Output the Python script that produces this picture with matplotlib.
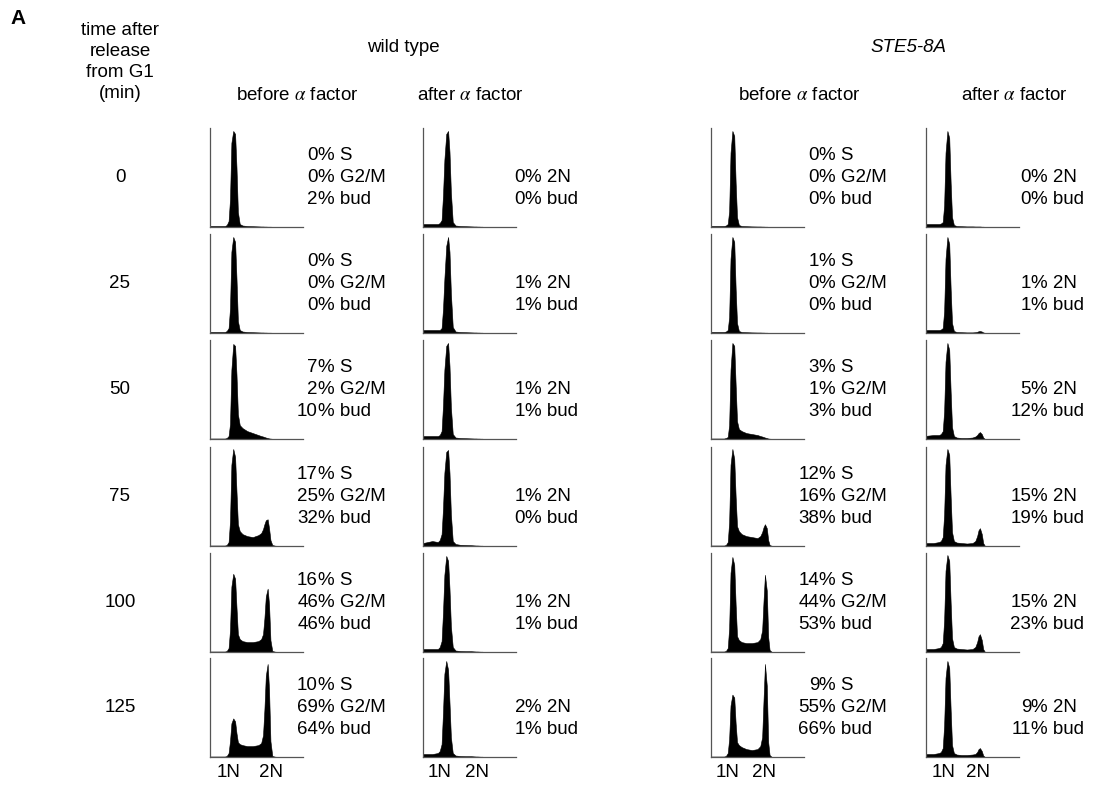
"""
Flow cytometry panels: wild type vs STE5-8A, before / after alpha factor
"""
import numpy as np
import matplotlib
matplotlib.use('Agg')
import matplotlib.pyplot as plt

plt.rcParams['font.family'] = ['Liberation Sans', 'DejaVu Sans']
plt.rcParams['mathtext.fontset'] = 'stix'

times = ['0', '25', '50', '75', '100', '125']
strains = ['wild type', 'STE5-8A']
col_titles = [r'before $\alpha$ factor', r'after $\alpha$ factor',
              r'before $\alpha$ factor', r'after $\alpha$ factor']
ploidy = ['1N', '2N']

# DNA content grid (channel, 0-100 across a panel), shared by all histograms
dna = [0, 10, 16, 18, 20, 21.5, 23, 25, 27, 28.5, 30, 32, 35, 40, 46, 52, 55, 57,
       58.5, 60, 62, 63.5, 65, 67, 70, 76, 100]

# cell counts (% of panel height), one row per time point
wt_before = [
    [1, 1, 1, 2, 6, 28, 85, 97, 94, 60, 15, 3, 1.5, 1, 0.8, 0.6, 0.5, 0.5, 0.4, 0.4, 0.3, 0.3, 0.3, 0.2, 0.2, 0, 0],
    [1, 1, 1, 2, 5, 25, 82, 97, 92, 55, 12, 3, 1.5, 1, 0.8, 0.6, 0.5, 0.5, 0.4, 0.4, 0.3, 0.3, 0.3, 0.2, 0.2, 0, 0],
    [0.5, 0.5, 0.5, 1, 3, 15, 70, 96, 94, 65, 25, 14, 11, 8, 6, 4, 3, 2.5, 2, 1.5, 1, 0.6, 0.4, 0.2, 0, 0, 0],
    [0.5, 0.5, 0.5, 1, 4, 25, 82, 98, 90, 55, 22, 15, 12, 10, 9, 11, 13, 17, 22, 26, 27, 18, 6, 1, 0.3, 0, 0],
    [0.5, 0.5, 0.5, 1, 4, 22, 66, 79, 74, 45, 18, 13, 11, 10, 10, 11, 13, 18, 34, 56, 64, 48, 12, 1, 0.3, 0, 0],
    [0.5, 0.5, 0.5, 1, 4, 16, 34, 39, 36, 24, 15, 13, 12, 11, 11, 12, 14, 22, 48, 82, 94, 68, 16, 1, 0.3, 0, 0],
]
wt_after = [
    [3, 3, 3, 4, 7, 32, 68, 94, 97, 76, 35, 5, 1.5, 1, 0.8, 0.6, 0.5, 0.5, 0.4, 0.4, 0.3, 0.3, 0.2, 0.2, 0, 0, 0],
    [3, 3, 3, 3, 5, 24, 55, 88, 97, 82, 40, 6, 1.5, 1, 0.8, 0.6, 0.5, 0.5, 0.4, 0.4, 0.3, 0.3, 0.2, 0.2, 0, 0, 0],
    [3, 3, 3, 4, 8, 34, 70, 94, 97, 74, 32, 5, 1.5, 1, 0.8, 0.6, 0.5, 0.5, 0.4, 0.4, 0.3, 0.3, 0.2, 0.2, 0, 0, 0],
    [3, 5, 4, 6, 12, 38, 74, 95, 97, 74, 32, 5, 2, 1.2, 1, 0.8, 0.6, 0.5, 0.5, 0.4, 0.3, 0.3, 0.2, 0.2, 0, 0, 0],
    [3, 3, 3, 5, 11, 40, 78, 97, 92, 64, 26, 5, 1.5, 1, 0.8, 0.8, 0.6, 0.5, 0.5, 0.4, 0.3, 0.3, 0.2, 0.2, 0, 0, 0],
    [3, 3, 4, 6, 13, 45, 84, 97, 88, 55, 20, 4, 1.5, 1, 0.8, 0.8, 0.6, 0.5, 0.5, 0.4, 0.3, 0.3, 0.2, 0.2, 0, 0, 0],
]
ste_before = [
    [1, 1, 1, 1.5, 3, 16, 75, 97, 92, 45, 10, 2, 1, 0.8, 0.6, 0.5, 0.5, 0.4, 0.4, 0.3, 0.3, 0.2, 0.2, 0.2, 0, 0, 0],
    [1, 1, 1, 1.5, 3, 16, 75, 97, 92, 45, 10, 2, 1, 0.8, 0.6, 0.5, 0.5, 0.4, 0.4, 0.3, 0.3, 0.2, 0.2, 0.2, 0, 0, 0],
    [0.5, 0.5, 0.5, 1, 2, 14, 70, 97, 94, 55, 18, 10, 8, 6, 5, 4, 3, 2.5, 2, 1.5, 1, 0.5, 0.3, 0.2, 0, 0, 0],
    [0.5, 0.5, 0.5, 1, 4, 24, 82, 98, 88, 50, 20, 15, 12, 10, 9, 8, 10, 14, 19, 22, 18, 6, 1, 0.3, 0, 0, 0],
    [0.5, 0.5, 0.5, 1, 4, 24, 80, 96, 88, 48, 16, 12, 10, 9, 9, 10, 13, 22, 52, 78, 62, 15, 2, 0.3, 0, 0, 0],
    [0.5, 0.5, 0.5, 1, 4, 18, 52, 63, 60, 34, 15, 12, 10, 8, 7, 8, 11, 20, 58, 94, 72, 15, 2, 0.3, 0, 0, 0],
]
ste_after = [
    [3, 3, 3, 3.5, 5, 22, 75, 97, 90, 45, 10, 2, 1, 0.8, 0.6, 0.6, 0.5, 0.5, 0.5, 0.5, 0.3, 0.3, 0.2, 0, 0, 0, 0],
    [3, 3, 3, 3.5, 5, 22, 75, 97, 90, 45, 10, 2, 1, 0.8, 0.6, 0.6, 0.8, 1.2, 1.8, 2, 1.5, 0.6, 0.2, 0, 0, 0, 0],
    [3, 4, 4, 5, 8, 28, 78, 97, 90, 48, 12, 3, 1.5, 1, 1, 1.5, 2.5, 4, 6, 7, 5, 1.5, 0.3, 0, 0, 0, 0],
    [3, 3, 4, 5, 9, 32, 82, 98, 92, 50, 14, 5, 3.5, 3, 2.5, 3, 5, 10, 16, 18, 12, 3, 0.5, 0, 0, 0, 0],
    [3, 3, 4, 5, 9, 32, 82, 98, 92, 50, 14, 5, 3.5, 3, 2.5, 3, 5, 10, 16, 18, 12, 3, 0.5, 0, 0, 0, 0],
    [3, 3, 4, 5, 9, 32, 80, 97, 90, 48, 12, 4, 2.5, 2, 2, 2.5, 3, 5, 8, 9, 6, 1.5, 0.3, 0, 0, 0, 0],
]

# scored percentages
wt_S = [0, 0, 7, 17, 16, 10]
wt_G2M = [0, 0, 2, 25, 46, 69]
wt_bud = [2, 0, 10, 32, 46, 64]
wt_after_2N = [0, 1, 1, 1, 1, 2]
wt_after_bud = [0, 1, 1, 0, 1, 1]
ste_S = [0, 1, 3, 12, 14, 9]
ste_G2M = [0, 0, 1, 16, 44, 55]
ste_bud = [0, 0, 3, 38, 53, 66]
ste_after_2N = [0, 1, 5, 15, 15, 9]
ste_after_bud = [0, 1, 12, 19, 23, 11]

hists = [wt_before, wt_after, ste_before, ste_after]
notes = [
    [(wt_S, '% S'), (wt_G2M, '% G2/M'), (wt_bud, '% bud')],
    [(wt_after_2N, '% 2N'), (wt_after_bud, '% bud')],
    [(ste_S, '% S'), (ste_G2M, '% G2/M'), (ste_bud, '% bud')],
    [(ste_after_2N, '% 2N'), (ste_after_bud, '% bud')],
]

# ---- layout in pixels ----
W, H = 1093, 788
col_left = [210, 423, 711, 926]
panel_w = 93
row_top = [128, 234, 340, 447, 553, 658]
panel_h = 99
x_shift = [0, 0, 2, 2]
pct_x = [318, 525, 819, 1031]
tick_px = [(229, 271), (440, 477), (728, 764), (944, 978)]
FS = 13.5


def fx(px):
    return px / W


def fy(py):
    return 1 - py / H


fig = plt.figure(figsize=(W / 100, H / 100), dpi=100)

for c in range(4):
    for r in range(6):
        ax = fig.add_axes([fx(col_left[c]), fy(row_top[r] + panel_h),
                           panel_w / W, panel_h / H])
        ax.fill_between(dna, 0, hists[c][r], color='black', linewidth=0.4)
        ax.set_xlim(x_shift[c], 100 + x_shift[c])
        ax.set_ylim(0, 100)
        for s in ['top', 'right']:
            ax.spines[s].set_visible(False)
        for s in ['left', 'bottom']:
            ax.spines[s].set_color('#555555')
            ax.spines[s].set_linewidth(0.9)
        ax.set_yticks([])
        if r == 5:
            tx = [(p - col_left[c]) / panel_w * 100 + x_shift[c] for p in tick_px[c]]
            ax.set_xticks(tx, ploidy, fontsize=FS)
            ax.tick_params(axis='x', length=0, pad=5)
        else:
            ax.set_xticks([])

        # percentage notes, numbers right-aligned on the % sign
        lines = notes[c]
        yc = row_top[r] + panel_h / 2
        offs = [-22, 0, 22] if len(lines) == 3 else [0, 22]
        for (vals, lab), dy in zip(lines, offs):
            fig.text(fx(pct_x[c]), fy(yc + dy), str(vals[r]), ha='right', va='center', fontsize=FS)
            fig.text(fx(pct_x[c]), fy(yc + dy), lab, ha='left', va='center', fontsize=FS)

# row labels
for r, t in enumerate(times):
    fig.text(fx(120), fy(row_top[r] + panel_h / 2), t, ha='center', va='center', fontsize=FS)

fig.text(fx(120), fy(62), 'time after\nrelease\nfrom G1\n(min)', ha='center', va='center',
         fontsize=FS, linespacing=1.33)
fig.text(fx(18), fy(19), 'A', ha='center', va='center', fontsize=15, fontweight='bold')
fig.text(fx(403), fy(47), strains[0], ha='center', va='center', fontsize=FS)
fig.text(fx(908), fy(47), strains[1], ha='center', va='center', fontsize=FS, style='italic')

title_x = [297, 470, 799, 1014]
for c in range(4):
    fig.text(fx(title_x[c]), fy(95), col_titles[c], ha='center', va='center', fontsize=FS)

plt.savefig('out.png', dpi=100)
print("Saved out.png")
